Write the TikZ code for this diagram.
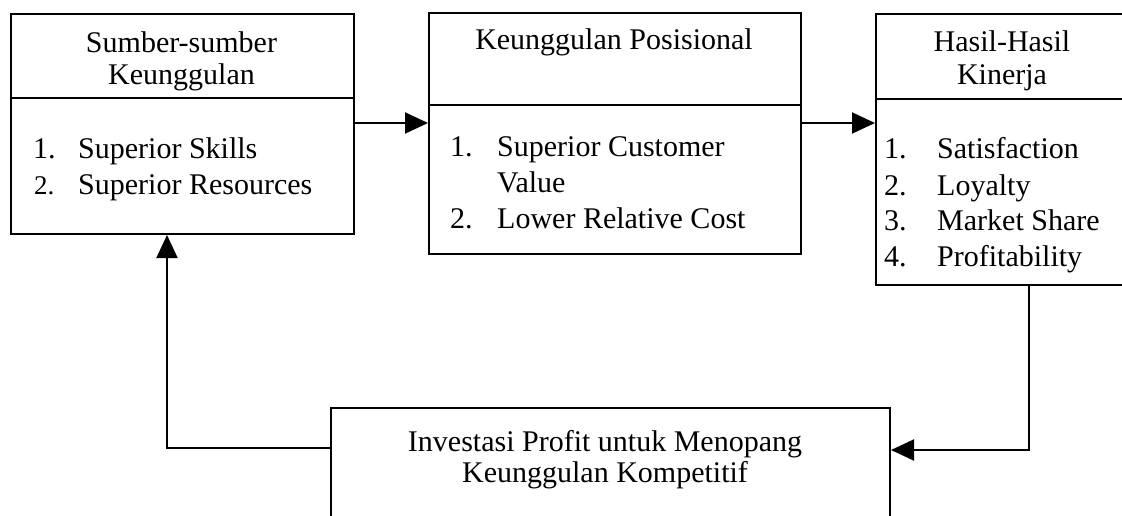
\documentclass[tikz,border=0pt]{standalone}
\usepackage{fontspec}
\setmainfont{Liberation Serif}
\usetikzlibrary{arrows.meta}
\begin{document}
\begin{tikzpicture}[x=1pt,y=-1pt,
  box/.style={draw, line width=2pt, rectangle, inner sep=0pt, anchor=north west},
  rule/.style={line width=2pt},
  conn/.style={line width=2pt, -{Triangle[length=23pt,width=21pt]}},
  txt/.style={inner sep=0pt, font=\fontsize{30}{34}\selectfont},
  ctr/.style={txt, anchor=base},
  item/.style={txt, anchor=base west}]
\useasboundingbox (0,0) rectangle (1122,516);

% boxes
\node[box, minimum width=343pt, minimum height=220pt] (b1) at (10,13) {};
\node[box, minimum width=372pt, minimum height=241pt] (b2) at (428,12) {};
\node[box, minimum width=260pt, minimum height=271pt] (b3) at (875,13) {};
\node[box, minimum width=559pt, minimum height=140pt] (b4) at (330,407) {};

% header dividers
\draw[rule] (b1.west |- 0,98) -- (b1.east |- 0,98);
\draw[rule] (b2.west |- 0,105) -- (b2.east |- 0,105);
\draw[rule] (b3.west |- 0,99) -- (b3.east |- 0,99);

% box 1
\node[ctr] (t1a) at (181.5,53) {Sumber-sumber};
\node[ctr] (t1b) at (181.5,85) {Keunggulan};
\node[item] (n11) at (33,158) {1.};
\node[item] (i11) at (78,158) {Superior Skills};
\node[item, font=\fontsize{27}{30}\selectfont] (n12) at (34,194) {2.};
\node[item] (i12) at (78,194) {Superior Resources};

% box 2
\node[ctr] (t2a) at (614,50) {Keunggulan Posisional};
\node[item] (n21) at (450,157) {1.};
\node[item] (i21) at (497,157) {Superior Customer};
\node[item] (i21b) at (497,192) {Value};
\node[item] (n22) at (450,228) {2.};
\node[item] (i22) at (497,228) {Lower Relative Cost};

% box 3
\node[ctr] (t3a) at (1002,52) {Hasil-Hasil};
\node[ctr] (t3b) at (1002,85) {Kinerja};
\node[item] (n31) at (884,159) {1.};
\node[item] (i31) at (937,159) {Satisfaction};
\node[item] (n32) at (884,195) {2.};
\node[item] (i32) at (937,195) {Loyalty};
\node[item] (n33) at (884,230) {3.};
\node[item] (i33) at (937,230) {Market Share};
\node[item] (n34) at (884,266) {4.};
\node[item] (i34) at (937,266) {Profitability};

% box 4
\node[ctr] (t4a) at (605,451) {Investasi Profit untuk Menopang};
\node[ctr] (t4b) at (605,482) {Keunggulan Kompetitif};

% connectors
\draw[conn] (b1.east |- 0,123) -- (b2.west |- 0,123);
\draw[conn] (b2.east |- 0,123) -- (b3.west |- 0,123);
\draw[conn] (b3.south -| 1029,0) -- (1029,450) -- (b4.east |- 0,450);
\draw[conn] (b4.west |- 0,448) -- (167,448) -- (b1.south -| 167,0);
\end{tikzpicture}
\end{document}
